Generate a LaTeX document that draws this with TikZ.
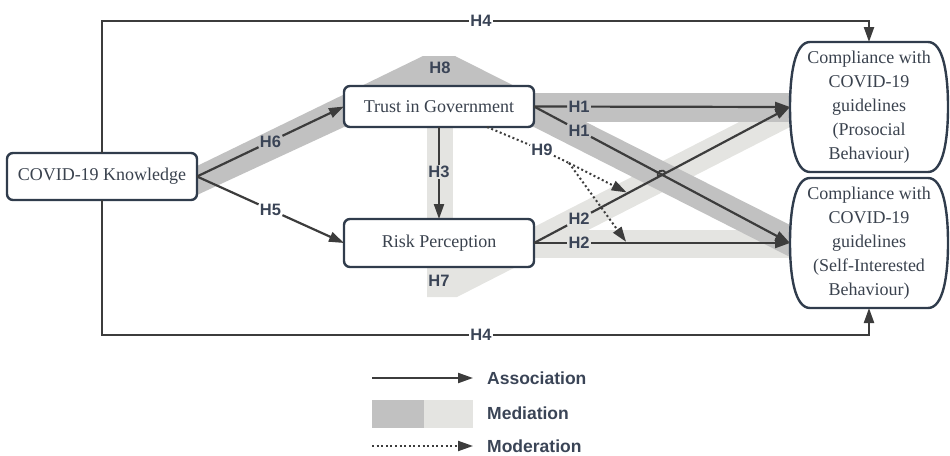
\documentclass[tikz,border=0pt]{standalone}
\usepackage{fontspec}
\setmainfont{Liberation Serif}
\newfontfamily\labfont{Liberation Sans}
\usetikzlibrary{arrows.meta,calc,backgrounds}
\definecolor{bandD}{RGB}{193,193,193}
\definecolor{bandL}{RGB}{228,228,225}
\definecolor{boxline}{RGB}{48,60,76}
\definecolor{txt}{RGB}{58,66,78}
\definecolor{labc}{RGB}{58,68,86}
\definecolor{arr}{RGB}{60,60,60}
\begin{document}
\begin{tikzpicture}[x=1pt,y=-1pt,
  box/.style={draw=boxline, line width=2.4pt, rounded corners=6pt, fill=white, text=txt,
    font=\fontsize{18}{24}\selectfont, minimum width=190pt, inner sep=0pt, outer sep=0pt},
  comp/.style={text=txt, font=\fontsize{18}{24}\selectfont, align=center,
    minimum width=158pt, minimum height=130pt, inner sep=0pt, outer sep=0pt},
  compline/.style={draw=boxline, line width=2.4pt},
  hlab/.style={text=labc, font=\labfont\bfseries\fontsize{16.5}{16.5}\selectfont, inner sep=1.2pt},
  leg/.style={text=labc, font=\labfont\bfseries\fontsize{17.5}{17.5}\selectfont, inner sep=0pt, anchor=west},
  conn/.style={draw=arr, line width=2.2pt},
  arrow/.style={conn, -{Triangle[length=15pt,width=10pt]}},
  modline/.style={draw=arr, line width=2pt, dash pattern=on 2pt off 2.6pt},
  modarrow/.style={modline, -{Triangle[length=15pt,width=10pt]}}
]
\useasboundingbox (0,0) rectangle (950,455);

% nodes
\node[box, minimum height=47pt] (know) at (102,176.5) {COVID-19 Knowledge};
\node[box, minimum height=41pt] (trust) at (439,106.5) {Trust in Government};
\node[box, minimum height=48pt] (risk) at (439,243) {Risk Perception};
\node[comp] (pro) at (869,107) {Compliance with\\COVID-19\\guidelines\\(Prosocial\\Behaviour)};
\node[comp] (self) at (869,243) {Compliance with\\COVID-19\\guidelines\\(Self-Interested\\Behaviour)};

% outlines of compliance nodes
\foreach \n in {pro,self}{
  \draw[compline] ($(\n.north west)+(20,0)$) -- ($(\n.north east)+(-20,0)$)
    .. controls ($(\n.north east)+(-5,0)$) and ($(\n.east)+(0,-34)$) .. (\n.east)
    .. controls ($(\n.east)+(0,34)$) and ($(\n.south east)+(-5,0)$) .. ($(\n.south east)+(-20,0)$)
    -- ($(\n.south west)+(20,0)$)
    .. controls ($(\n.south west)+(5,0)$) and ($(\n.west)+(0,34)$) .. (\n.west)
    .. controls ($(\n.west)+(0,-34)$) and ($(\n.north west)+(5,0)$) .. cycle;
}

% mediation bands
\begin{scope}[on background layer]
  \fill[bandL] (427,120) rectangle (453,297);
  \fill[bandL] (427,255) -- (427,297) -- (457,297) -- (790,127) -- (790,96) -- (534,227) -- (534,255) -- cycle;
  \fill[bandL] (534,230) rectangle (790,258);
  \fill[bandD] (197,166) -- (423,56) -- (455,56) -- (790,225) -- (790,257) -- (534,127) -- (344,127) -- (197,195) -- cycle;
  \fill[bandD] (534,93) rectangle (790,122);
\end{scope}

% labels on the connectors
\path (know.east) -- node[hlab,pos=0.5] (h6) {H6} (trust.west);
\path (know.east) -- node[hlab,pos=0.5] (h5) {H5} (risk.west);
\path (trust.east) -- node[hlab,pos=0.176] (h1a) {H1} (pro.west);
\path (trust.east) -- node[hlab,pos=0.176] (h1b) {H1} (self.west);
\path (risk.east) -- node[hlab,pos=0.176] (h2a) {H2} (pro.west);
\path (risk.east) -- node[hlab,pos=0.176] (h2b) {H2} (self.west);
\path (trust.south) -- node[hlab,pos=0.49] (h3) {H3} (risk.north);
\node[hlab] (h4t) at (481,21) {H4};
\node[hlab] (h4b) at (481,335) {H4};
\node[hlab] (h8) at (440,68) {H8};
\node[hlab] (h7) at (439,281) {H7};
\node[hlab] (h9) at (542,150) {H9};

% associations
\draw[conn] (know.east) -- (h6);  \draw[arrow] (h6) -- (trust.west);
\draw[conn] (know.east) -- (h5);  \draw[arrow] (h5) -- (risk.west);
\draw[conn] (trust.east) -- (h1a); \draw[arrow] (h1a) -- (pro.west);
\draw[conn] (trust.east) -- (h1b); \draw[arrow] (h1b) -- (self.west);
\draw[conn] (risk.east) -- (h2a); \draw[arrow] (h2a) -- (pro.west);
\draw[conn] (risk.east) -- (h2b); \draw[arrow] (h2b) -- (self.west);
\draw[conn] (trust.south) -- (h3); \draw[arrow] (h3) -- (risk.north);
\draw[conn] (know.north) |- (h4t); \draw[arrow] (h4t) -| (pro.north);
\draw[conn] (know.south) |- (h4b); \draw[arrow] (h4b) -| (self.south);

% line hop at crossing of H2 and H1
\coordinate (cx) at (662,175);
\draw[draw=arr, line width=1.8pt] ($(cx)+(152:4.5)$) arc (152:332:4.5);

% moderation H9
\coordinate (h9s) at ($(trust.south)+(48,0)$);
\coordinate (h9split) at (569,163);
\path (risk.east) -- coordinate[pos=0.367] (m1) (pro.west);
\path (risk.east) -- coordinate[pos=0.363] (m2) (self.west);
\draw[modline] (h9s) -- (h9);
\draw[modline] (h9) -- (h9split);
\draw[modarrow, shorten >=1.5pt] (h9split) -- (m1);
\draw[modarrow, shorten >=1.5pt] (h9split) -- (m2);

% legend
\coordinate (la1) at (372,378); \coordinate (la2) at (473,378);
\draw[arrow] (la1) -- (la2);
\node[leg] (lassoc) at (487,378) {Association};
\fill[bandD] (372,400) rectangle (424,428);
\fill[bandL] (424,400) rectangle (473,428);
\node[leg] (lmed) at (487,413) {Mediation};
\coordinate (lm1) at (372,446); \coordinate (lm2) at (473,446);
\draw[modarrow] (lm1) -- (lm2);
\node[leg] (lmod) at (487,446) {Moderation};
\end{tikzpicture}
\end{document}
